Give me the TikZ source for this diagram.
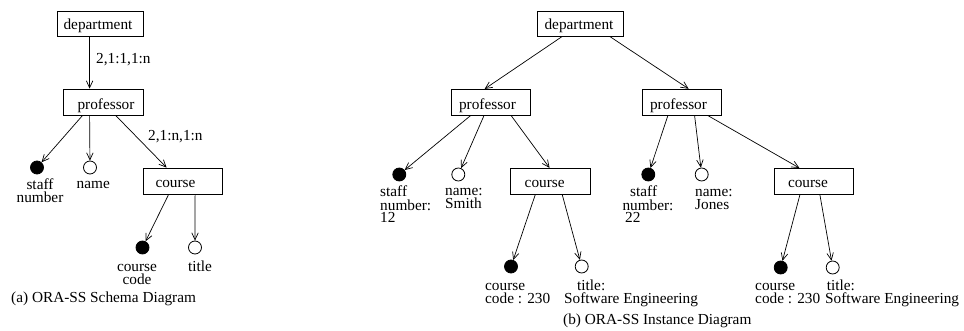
\documentclass[tikz,border=0pt]{standalone}
\usepackage{fontspec}
\setmainfont{Liberation Serif}
\usetikzlibrary{arrows.meta}

\begin{document}
\begin{tikzpicture}[x=1pt, y=-1pt,
  every node/.style={font=\fontsize{15.3}{13}\selectfont, inner sep=0pt},
  box/.style={draw, line width=0.8pt, minimum width=79pt, minimum height=26pt},
  lbl/.style={anchor=base},
  txt/.style={anchor=base west, align=left},
  ctxt/.style={anchor=base, align=center},
  key/.style={circle, draw, line width=0.8pt, fill=black, minimum size=13pt},
  attr/.style={circle, draw, line width=0.8pt, fill=white, minimum size=13pt},
  link/.style={line width=0.7pt, -{Straight Barb[length=7pt,width=6.5pt,line width=0.7pt]}},
  caption/.style={anchor=base west}]

\useasboundingbox (0,0) rectangle (964,331);

% ---------------- (a) schema diagram ----------------
\node[box, minimum width=86pt, minimum height=25pt] (dA) at (100,23.5) {};
\node[lbl] (dAt) at (98,29.3) {department};
\node[box, minimum width=80pt] (pA) at (103,102) {};
\node[lbl] (pAt) at (106,109.3) {professor};
\node[box, minimum height=26.5pt] (cA) at (182.5,181.25) {};
\node[lbl] (cAt) at (175.5,187.7) {course};

\node[key]  (sA)  at (37,167.5) {};
\node[attr] (nA)  at (90,167.5) {};
\node[key]  (ccA) at (142.5,247.5) {};
\node[attr] (tA)  at (195,247.5) {};

\draw[link] ([xshift=33pt]dA.south west) -- ([xshift=27pt]pA.north west);
\draw[link] ([xshift=20pt]pA.south west) -- (sA);
\draw[link] ([xshift=27pt]pA.south west) -- (nA);
\draw[link] ([xshift=53pt]pA.south west) -- ([xshift=24pt]cA.north west);
\draw[link] ([xshift=25.8pt]cA.south west) -- (ccA);
\draw[link] ([xshift=52.5pt]cA.south west) -- (tA);

\node[txt] (cardA1) at (96,63.3) {2,1:1,1:n};
\node[txt] (cardA2) at (148,140.7) {2,1:n,1:n};

% multi-line labels: the base anchor sits on the last line
\node[ctxt] (sAt)  at (40,202.5) {staff\\number};
\node[ctxt] (nAt)  at (93.3,188.7) {name};
\node[ctxt] (ccAt) at (137,284.5) {course\\code};
\node[ctxt] (tAt)  at (200,271.5) {title};

\node[caption] (capA) at (11,302.5) {(a) ORA-SS Schema Diagram};

% ---------------- (b) instance diagram ----------------
\node[box, minimum width=86pt, minimum height=25pt] (dB) at (580,23.5) {};
\node[lbl] (dBt) at (579,29.3) {department};

\node[box] (pB1) at (491.2,102.4) {};
\node[lbl] (pB1t) at (487.5,109.3) {professor};
\node[box] (pB2) at (682.2,102.2) {};
\node[lbl] (pB2t) at (678.5,109.3) {professor};

\node[box, minimum width=79.3pt] (cB1) at (550.3,181.3) {};
\node[lbl] (cB1t) at (544.7,187.7) {course};
\node[box] (cB2) at (813.8,181.4) {};
\node[lbl] (cB2t) at (808,187.7) {course};

\node[key]  (sB1)  at (399.3,174.5) {};
\node[attr] (nB1)  at (458.3,174.5) {};
\node[key]  (ccB1) at (511,266.5) {};
\node[attr] (tB1)  at (581.7,266.5) {};
\node[key]  (sB2)  at (648.3,174.5) {};
\node[attr] (nB2)  at (701.7,174.5) {};
\node[key]  (ccB2) at (780.7,267.5) {};
\node[attr] (tB2)  at (832.7,267.5) {};

\draw[link] ([xshift=25.7pt]dB.south west) -- ([xshift=33.3pt]pB1.north west);
\draw[link] ([xshift=73pt]dB.south west) -- ([xshift=46.3pt]pB2.north west);

\draw[link] ([xshift=19pt]pB1.south west) -- (sB1);
\draw[link] ([xshift=32.6pt]pB1.south west) -- (nB1);
\draw[link] ([xshift=60pt]pB1.south west) -- ([xshift=39.3pt]cB1.north west);
\draw[link] ([xshift=25pt]cB1.south west) -- (ccB1);
\draw[link] ([xshift=52pt]cB1.south west) -- (tB1);

\draw[link] ([xshift=25.6pt]pB2.south west) -- (sB2);
\draw[link] ([xshift=52.3pt]pB2.south west) -- (nB2);
\draw[link] ([xshift=65.6pt]pB2.south west) -- ([xshift=25.5pt]cB2.north west);
\draw[link] ([xshift=26pt]cB2.south west) -- (ccB2);
\draw[link] ([xshift=46pt]cB2.south west) -- (tB2);

\node[txt] (sB1t)  at (380,223) {staff\\number:\\12};
\node[txt] (nB1t)  at (445,209) {name:\\Smith};
\node[txt] (ccB1t) at (485,303) {course\\code : 230};
\node[txt] (tB1t)  at (564,303) {\hspace*{13pt}title:\\Software Engineering};

\node[txt] (sB2t)  at (622.3,223) {\hspace*{7.7pt}staff\\number:\\\hspace*{2.7pt}22};
\node[txt] (nB2t)  at (695,209.5) {name:\\Jones};
\node[txt] (ccB2t) at (755,303) {course\\code : 230};
\node[txt] (tB2t)  at (825,303) {\hspace*{1.7pt}title:\\Software Engineering};

\node[caption] (capB) at (563,324.5) {(b) ORA-SS Instance Diagram};
\end{tikzpicture}
\end{document}
